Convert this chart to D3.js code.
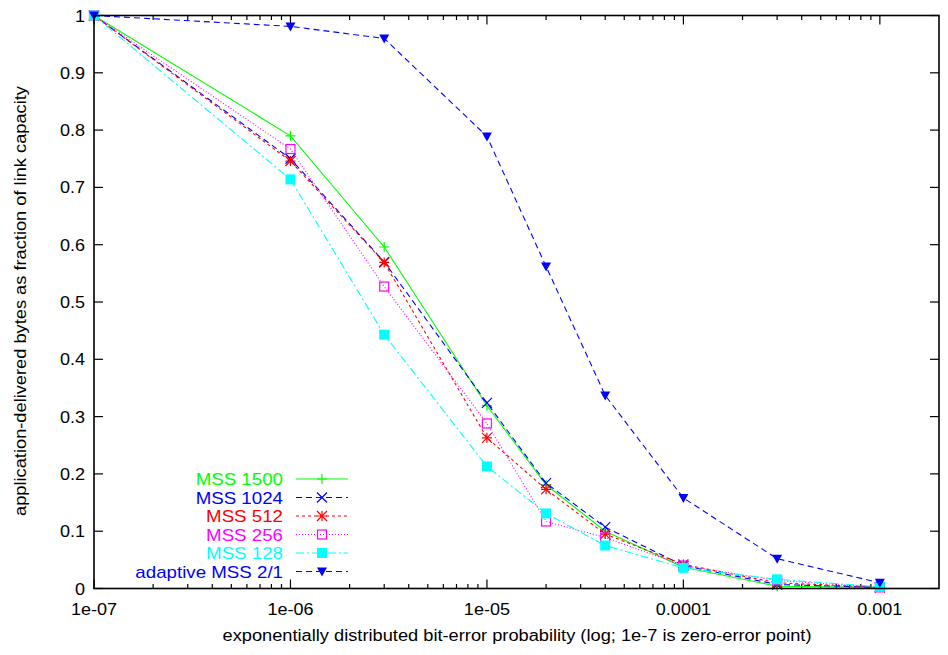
<!DOCTYPE html>
<html>
<head>
<meta charset="utf-8">
<script src="https://cdn.jsdelivr.net/npm/d3@7"></script>
<style>
  body { margin: 0; background: #fff; }
  text { font-family: "Liberation Sans", Arial, sans-serif; }
</style>
</head>
<body>
<svg id="chart" width="948" height="655"></svg>
<script>
// bit-error probabilities
const errorRates = [1e-7, 1e-6, 3e-6, 1e-5, 2e-5, 4e-5, 1e-4, 3e-4, 1e-3];

const mss1500 = [1, 0.790, 0.596, 0.319, 0.181, 0.100, 0.037, 0.004, 0.002];
const mss1024 = [1, 0.750, 0.570, 0.324, 0.184, 0.107, 0.040, 0.007, 0.002];
const mss512 = [1, 0.746, 0.569, 0.263, 0.173, 0.095, 0.042, 0.010, 0.002];
const mss256 = [1, 0.767, 0.527, 0.288, 0.117, 0.089, 0.040, 0.014, 0.002];
const mss128 = [1, 0.714, 0.443, 0.213, 0.131, 0.075, 0.036, 0.016, 0.003];
const adaptive = [1, 0.981, 0.960, 0.789, 0.562, 0.337, 0.158, 0.052, 0.010];

const seriesNames = [`MSS 1500`, `MSS 1024`, `MSS 512`, `MSS 256`, `MSS 128`, `adaptive MSS 2/1`];
const seriesColors = [`#00ff00`, `#0000ff`, `#ff0000`, `#ff00ff`, `#00ffff`, `#0000ff`];
const seriesDash = [null, `6,4`, `3,3`, `1,2`, `8,3,2,3`, `6,4`];
const seriesMarker = [`plus`, `cross`, `star`, `box`, `fbox`, `ftri`];
const seriesValues = [mss1500, mss1024, mss512, mss256, mss128, adaptive];

const xTickValues = [1e-7, 1e-6, 1e-5, 1e-4, 1e-3];
const xTickLabels = [`1e-07`, `1e-06`, `1e-05`, `0.0001`, `0.001`];
const yTickValues = [0, 0.1, 0.2, 0.3, 0.4, 0.5, 0.6, 0.7, 0.8, 0.9, 1];

const plotLeft = 94, plotRight = 939, plotTop = 15.5, plotBottom = 588.5;

const svg = d3.select(`#chart`);

const x = d3.scaleLog().domain([1e-7, 2e-3]).range([plotLeft, plotRight]);
const y = d3.scaleLinear().domain([0, 1]).range([plotBottom, plotTop]);

// the original font is a bit wider than Liberation Sans
const widen = (sel, k) => sel.each(function () {
    const w = this.getComputedTextLength();
    d3.select(this).attr(`textLength`, w * k).attr(`lengthAdjust`, `spacingAndGlyphs`);
});

// minor ticks for log axis
const minorX = [];
for (let e = -7; e <= -3; e++) {
    for (let m = 2; m <= 9; m++) {
        const v = m * Math.pow(10, e);
        if (v < 2e-3) minorX.push(v);
    }
}

const axes = svg.append(`g`).attr(`stroke`, `#000`).attr(`stroke-width`, 1.2);

// ticks on all four sides, pointing in
xTickValues.forEach(v => {
    axes.append(`line`).attr(`x1`, x(v)).attr(`x2`, x(v)).attr(`y1`, plotBottom).attr(`y2`, plotBottom - 9);
    axes.append(`line`).attr(`x1`, x(v)).attr(`x2`, x(v)).attr(`y1`, plotTop).attr(`y2`, plotTop + 9);
});
minorX.forEach(v => {
    axes.append(`line`).attr(`x1`, x(v)).attr(`x2`, x(v)).attr(`y1`, plotBottom).attr(`y2`, plotBottom - 4.5);
    axes.append(`line`).attr(`x1`, x(v)).attr(`x2`, x(v)).attr(`y1`, plotTop).attr(`y2`, plotTop + 4.5);
});
yTickValues.forEach(v => {
    axes.append(`line`).attr(`x1`, plotLeft).attr(`x2`, plotLeft + 9).attr(`y1`, y(v)).attr(`y2`, y(v));
    axes.append(`line`).attr(`x1`, plotRight).attr(`x2`, plotRight - 9).attr(`y1`, y(v)).attr(`y2`, y(v));
});

// tick labels
svg.append(`g`).selectAll(`text`)
    .data(xTickValues)
    .join(`text`)
    .attr(`x`, d => x(d))
    .attr(`y`, plotBottom + 26)
    .attr(`text-anchor`, `middle`)
    .attr(`font-size`, 17)
    .text((d, i) => xTickLabels[i])
    .call(widen, 1.06);

svg.append(`g`).selectAll(`text`)
    .data(yTickValues)
    .join(`text`)
    .attr(`x`, plotLeft - 9)
    .attr(`y`, d => y(d) + 6)
    .attr(`text-anchor`, `end`)
    .attr(`font-size`, 17)
    .text(d => d === 0 ? `0` : d === 1 ? `1` : d3.format(`.1f`)(d))
    .call(widen, 1.06);

// axis titles
svg.append(`text`)
    .attr(`x`, 517)
    .attr(`y`, 641)
    .attr(`text-anchor`, `middle`)
    .attr(`font-size`, 16)
    .text(`exponentially distributed bit-error probability (log; 1e-7 is zero-error point)`)
    .call(widen, 1.14);

svg.append(`text`)
    .attr(`transform`, `translate(26, 301) rotate(-90)`)
    .attr(`text-anchor`, `middle`)
    .attr(`font-size`, 16)
    .text(`application-delivered bytes as fraction of link capacity`)
    .call(widen, 1.14);

const drawMarker = (g, type, cx, cy, color) => {
    if (type === `plus` || type === `star`) {
        g.append(`path`).attr(`d`, `M${cx - 5},${cy}H${cx + 5}M${cx},${cy - 5}V${cy + 5}`)
            .attr(`stroke`, color).attr(`stroke-width`, 1.2).attr(`fill`, `none`);
    }
    if (type === `cross` || type === `star`) {
        g.append(`path`).attr(`d`, `M${cx - 5},${cy - 5}L${cx + 5},${cy + 5}M${cx - 5},${cy + 5}L${cx + 5},${cy - 5}`)
            .attr(`stroke`, color).attr(`stroke-width`, 1.2).attr(`fill`, `none`);
    }
    if (type === `box`) {
        g.append(`rect`).attr(`x`, cx - 4.5).attr(`y`, cy - 4.5).attr(`width`, 9).attr(`height`, 9)
            .attr(`stroke`, color).attr(`stroke-width`, 1.2).attr(`fill`, `none`);
    }
    if (type === `fbox`) {
        g.append(`rect`).attr(`x`, cx - 5).attr(`y`, cy - 5).attr(`width`, 10).attr(`height`, 10)
            .attr(`fill`, color);
    }
    if (type === `ftri`) {
        g.append(`path`).attr(`d`, `M${cx - 5},${cy - 4}L${cx + 5},${cy - 4}L${cx},${cy + 5}Z`)
            .attr(`fill`, color);
    }
};

const line = d3.line().x(d => x(d[0])).y(d => y(d[1]));

seriesValues.forEach((vals, i) => {
    const g = svg.append(`g`);
    const pts = errorRates.map((r, j) => [r, vals[j]]);
    g.append(`path`)
        .attr(`d`, line(pts))
        .attr(`fill`, `none`)
        .attr(`stroke`, seriesColors[i])
        .attr(`stroke-width`, 1.1)
        .attr(`stroke-dasharray`, seriesDash[i]);
    pts.forEach(p => drawMarker(g, seriesMarker[i], x(p[0]), y(p[1]), seriesColors[i]));
});

// legend
const legendY = [479, 497.5, 516, 534.5, 553, 571.5];
seriesNames.forEach((name, i) => {
    const g = svg.append(`g`);
    g.append(`text`)
        .attr(`x`, 283)
        .attr(`y`, legendY[i] + 6)
        .attr(`text-anchor`, `end`)
        .attr(`font-size`, 17)
        .attr(`fill`, seriesColors[i])
        .text(name)
        .call(widen, 1.1);
    g.append(`line`)
        .attr(`x1`, 296).attr(`x2`, 348)
        .attr(`y1`, legendY[i]).attr(`y2`, legendY[i])
        .attr(`stroke`, seriesColors[i])
        .attr(`stroke-width`, 1.1)
        .attr(`stroke-dasharray`, seriesDash[i]);
    drawMarker(g, seriesMarker[i], 322, legendY[i], seriesColors[i]);
});

// border
svg.append(`rect`)
    .attr(`x`, plotLeft).attr(`y`, plotTop)
    .attr(`width`, plotRight - plotLeft).attr(`height`, plotBottom - plotTop)
    .attr(`fill`, `none`).attr(`stroke`, `#000`).attr(`stroke-width`, 1.6);
</script>
</body>
</html>
